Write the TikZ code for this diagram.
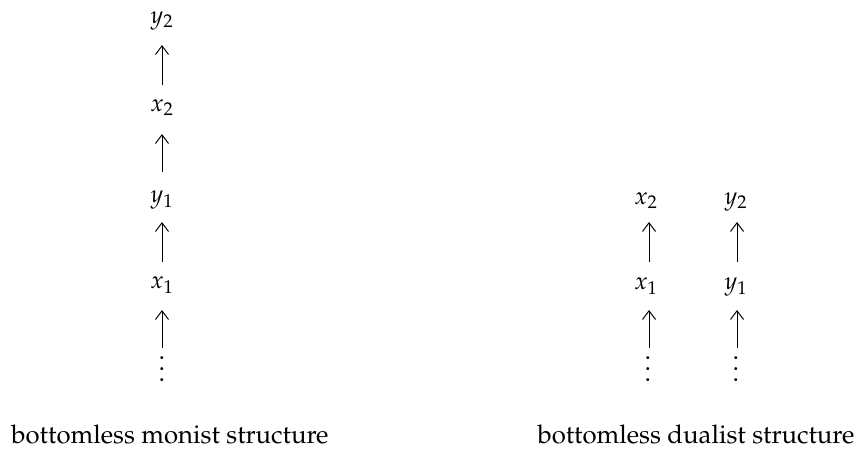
\documentclass[tikz,border=0pt]{standalone}
\usepackage[T1]{fontenc}
\usepackage{mathpazo}
\usetikzlibrary{arrows.meta}
\begin{document}
\begin{tikzpicture}[x=0.575pt,y=-0.575pt,
  lbl/.style={inner sep=0pt,font=\fontsize{14}{16}\selectfont},
  dots/.style={inner sep=0pt,align=center,font=\fontsize{15}{6.3}\selectfont},
  captxt/.style={inner sep=0pt,font=\fontsize{14.8}{16}\selectfont,anchor=base},
  up/.style={-{Straight Barb[length=5pt,width=7.5pt]},line width=0.55pt}]
\useasboundingbox (0,0) rectangle (860,448);
% left chain
\node[lbl] (ly2) at (162,21) {$y_2$};
\node[lbl] (lx2) at (162,108) {$x_2$};
\node[lbl] (ly1) at (162,200) {$y_1$};
\node[lbl] (lx1) at (162,285) {$x_1$};
\node[dots] (ld) at (162,369) {.\\.\\.};
\coordinate (la1) at (162,85); \coordinate (lb1) at (162,45);
\coordinate (la2) at (162,172); \coordinate (lb2) at (162,134);
\coordinate (la3) at (162,262); \coordinate (lb3) at (162,222);
\coordinate (la4) at (162,348); \coordinate (lb4) at (162,310);
\draw[up] (la1) -- (lb1);
\draw[up] (la2) -- (lb2);
\draw[up] (la3) -- (lb3);
\draw[up] (la4) -- (lb4);
% right chains
\node[lbl] (rx2) at (646,201) {$x_2$};
\node[lbl] (ry2) at (736,202) {$y_2$};
\node[lbl] (rx1) at (646,286) {$x_1$};
\node[lbl] (ry1) at (736,287) {$y_1$};
\node[dots] (rd1) at (648,369) {.\\.\\.};
\node[dots] (rd2) at (736,369) {.\\.\\.};
\coordinate (ra1) at (649,262); \coordinate (rb1) at (649,222);
\coordinate (ra2) at (737,262); \coordinate (rb2) at (737,222);
\coordinate (ra3) at (649,348); \coordinate (rb3) at (649,310);
\coordinate (ra4) at (737,348); \coordinate (rb4) at (737,310);
\draw[up] (ra1) -- (rb1);
\draw[up] (ra2) -- (rb2);
\draw[up] (ra3) -- (rb3);
\draw[up] (ra4) -- (rb4);
% captions
\node[captxt] (c1) at (170,443.5) {bottomless monist structure};
\node[captxt] (c2) at (696,443.5) {bottomless dualist structure};
\end{tikzpicture}
\end{document}
